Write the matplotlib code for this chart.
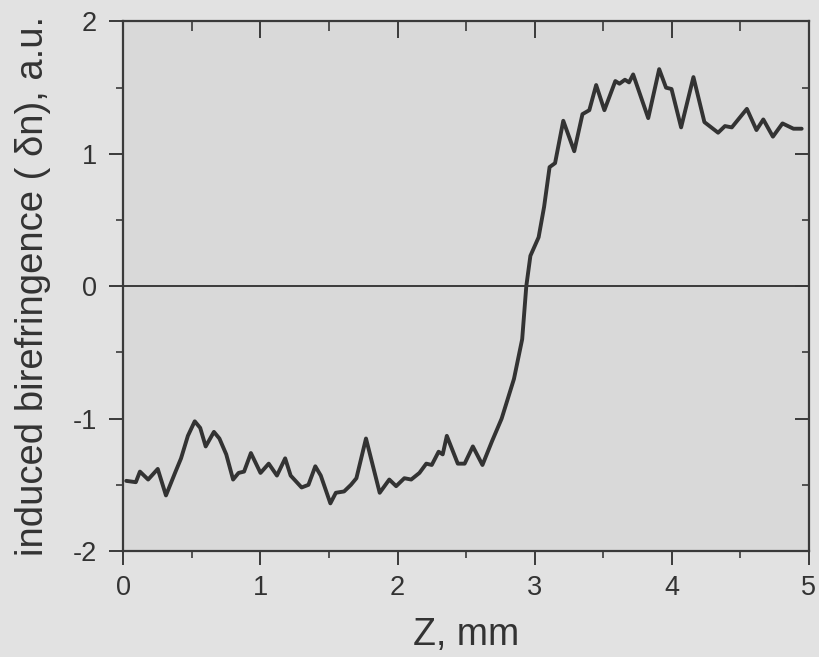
import matplotlib
matplotlib.use("Agg")
import matplotlib.pyplot as plt
from matplotlib.ticker import MultipleLocator

# values
z_mm = [0.02, 0.09, 0.12, 0.18, 0.25, 0.31, 0.38, 0.42, 0.47, 0.52,
        0.56, 0.60, 0.66, 0.70, 0.75, 0.80, 0.84, 0.88, 0.93, 1.00,
        1.06, 1.12, 1.18, 1.22, 1.30, 1.35, 1.40, 1.44, 1.51, 1.55,
        1.61, 1.66, 1.70, 1.77, 1.87, 1.94, 1.99, 2.05, 2.10, 2.16,
        2.21, 2.25, 2.30, 2.33, 2.36, 2.44, 2.49, 2.55, 2.62, 2.69,
        2.76, 2.85, 2.91, 2.94, 2.97, 3.03, 3.07, 3.11, 3.15, 3.21,
        3.29, 3.35, 3.40, 3.45, 3.51, 3.59, 3.62, 3.66, 3.69, 3.72,
        3.76, 3.83, 3.91, 3.96, 4.00, 4.07, 4.16, 4.24, 4.34, 4.39,
        4.44, 4.55, 4.62, 4.67, 4.74, 4.81, 4.89, 4.95]
delta_n = [-1.47, -1.48, -1.40, -1.46, -1.38, -1.58, -1.40, -1.30, -1.13, -1.02,
           -1.07, -1.21, -1.10, -1.15, -1.27, -1.46, -1.41, -1.40, -1.26, -1.41,
           -1.34, -1.43, -1.30, -1.43, -1.52, -1.50, -1.36, -1.43, -1.64, -1.56,
           -1.55, -1.50, -1.45, -1.15, -1.56, -1.46, -1.51, -1.45, -1.46, -1.41,
           -1.34, -1.35, -1.25, -1.27, -1.13, -1.34, -1.34, -1.21, -1.35, -1.17,
           -1.00, -0.70, -0.40, 0.00, 0.23, 0.37, 0.60, 0.90, 0.93, 1.25,
           1.02, 1.30, 1.33, 1.52, 1.33, 1.55, 1.53, 1.56, 1.54, 1.60,
           1.48, 1.27, 1.64, 1.50, 1.49, 1.20, 1.58, 1.24, 1.16, 1.21,
           1.20, 1.34, 1.18, 1.26, 1.13, 1.23, 1.19, 1.19]

plt.rcParams['font.family'] = ['Liberation Sans', 'DejaVu Sans']
plt.rcParams['axes.unicode_minus'] = False

ink = '#3a3a3a'
fig = plt.figure(figsize=(8.2, 6.57), dpi=100, facecolor='#e2e2e2')
ax = fig.add_axes([0.1506, 0.1613, 0.8354, 0.806], facecolor='#d9d9d9')

ax.plot(z_mm, delta_n, color='#333333', linewidth=2.8,
        solid_joinstyle='round', solid_capstyle='round')
ax.axhline(0, color=ink, linewidth=1.4)

ax.set_xlim(0, 5)
ax.set_ylim(-2, 2)
ax.xaxis.set_major_locator(MultipleLocator(1))
ax.xaxis.set_minor_locator(MultipleLocator(0.5))
ax.yaxis.set_major_locator(MultipleLocator(1))
ax.yaxis.set_minor_locator(MultipleLocator(0.5))

for s in ax.spines.values():
    s.set_color(ink)
    s.set_linewidth(1.6)

ax.tick_params(which='major', direction='out', length=10, width=1.4,
               color=ink, labelsize=19.5, labelcolor='#333333')
ax.tick_params(axis='y', which='major', pad=9)
ax.tick_params(axis='x', which='major', pad=7)
ax.tick_params(which='minor', direction='out', length=5, width=1.2, color=ink)

# inward ticks on top and right
top = ax.secondary_xaxis('top')
top.xaxis.set_major_locator(MultipleLocator(1))
top.xaxis.set_minor_locator(MultipleLocator(0.5))
top.tick_params(which='major', direction='in', length=12, width=1.4, color=ink, labeltop=False)
top.tick_params(which='minor', direction='in', length=7, width=1.2, color=ink)
top.spines['top'].set_visible(False)

right = ax.secondary_yaxis('right')
right.yaxis.set_major_locator(MultipleLocator(1))
right.yaxis.set_minor_locator(MultipleLocator(0.5))
right.tick_params(which='major', direction='in', length=10, width=1.4, color=ink, labelright=False)
right.tick_params(which='minor', direction='in', length=5, width=1.2, color=ink)
right.spines['right'].set_visible(False)

ax.set_xlabel('Z, mm', fontsize=27, color='#333333', labelpad=12)
ax.set_ylabel('induced birefringence ( δn), a.u.', fontsize=27.5, color='#333333', labelpad=16)

fig.savefig('out.png', dpi=100, facecolor=fig.get_facecolor())
